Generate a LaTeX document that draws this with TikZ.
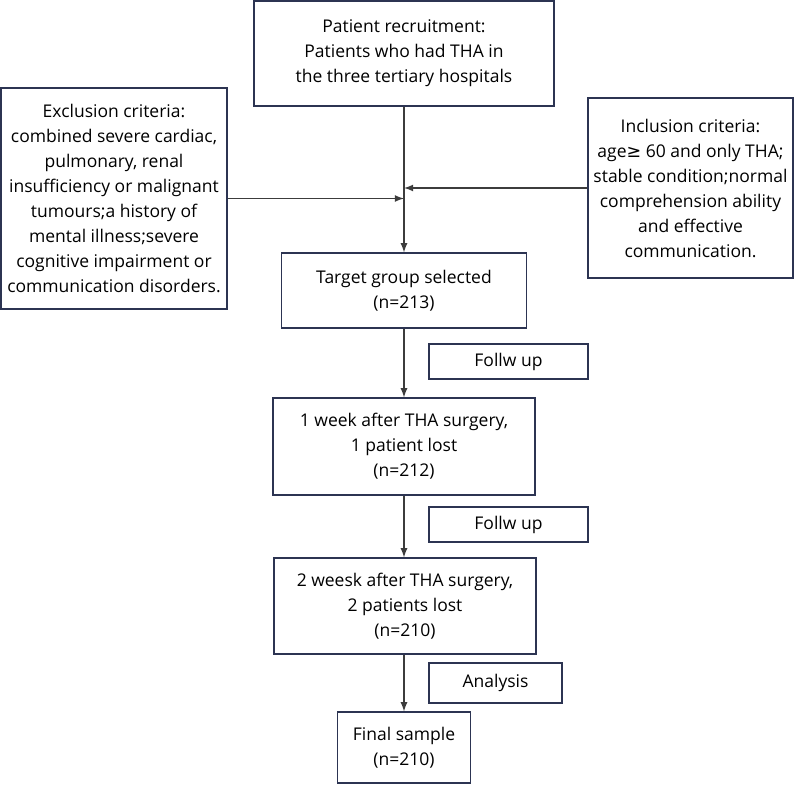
\documentclass[tikz,border=0pt]{standalone}
\usepackage{fontspec}
\setmainfont{Open Sans}
\newfontfamily\symfont{DejaVu Sans}
\usepackage{xcolor}
\usetikzlibrary{arrows}
\definecolor{boxline}{RGB}{44,52,82}
\definecolor{arrline}{RGB}{60,60,60}
\tikzset{
  stagebox/.style={draw=boxline,line width=0.6pt,align=center,inner sep=2pt,
    font=\fontsize{8.75}{12.5}\selectfont},
  flowarrow/.style={draw=arrline,line width=0.6pt,-latex}
}

\begin{document}
\begin{tikzpicture}[x=0.5pt,y=-0.5pt]
\useasboundingbox (0,0) rectangle (794,785);
\node[stagebox,minimum width=150pt,minimum height=52.5pt] (recruit) at (404,53.5)
  {Patient recruitment:\\Patients who had THA in\\the three tertiary hospitals};
\node[stagebox,minimum width=113pt,minimum height=110.5pt] (excl) at (114,198.5)
  {Exclusion criteria:\\ combined severe cardiac,\\pulmonary, renal\\insufficiency or malignant\\tumours;a history of\\mental illness;severe\\cognitive impairment or\\communication disorders.};
\node[stagebox,minimum width=102.5pt,minimum height=90pt] (incl) at (690.5,188)
  {Inclusion criteria:\\age{\symfont ≥} 60 and only THA;\\stable condition;normal\\comprehension ability\\and effective\\communication.};
\node[stagebox,minimum width=122.5pt,minimum height=37.5pt] (target) at (404,290.5)
  {Target group selected\\(n=213)};
\node[stagebox,minimum width=79.5pt,minimum height=17.5pt] (follow1) at (508.5,361.5)
  {Follw up};
\node[stagebox,minimum width=131pt,minimum height=48.5pt] (week1) at (404,446.5)
  {1 week after THA surgery,\\1 patient lost\\(n=212)};
\node[stagebox,minimum width=79.5pt,minimum height=17.5pt] (follow2) at (508.5,524.5)
  {Follw up};
\node[stagebox,minimum width=131pt,minimum height=48pt] (week2) at (405,606)
  {2 weesk after THA surgery,\\2 patients lost\\(n=210)};
\node[stagebox,minimum width=66.5pt,minimum height=20pt] (analysis) at (495.5,683)
  {Analysis};
\node[stagebox,minimum width=66.5pt,minimum height=35.5pt] (final) at (404,747.5)
  {Final sample\\(n=210)};
% joins on the main line
\coordinate (exjoin) at (404,198.5);
\coordinate (injoin) at (404,188);
\draw[flowarrow] (recruit) -- (target);
\draw[flowarrow] (excl) -- (exjoin);
\draw[flowarrow] (incl) -- (injoin);
\draw[flowarrow] (target) -- (week1);
\draw[flowarrow] (week1) -- (week1 |- week2.north);
\draw[flowarrow] (week2.south -| final) -- (final);
\end{tikzpicture}
\end{document}
